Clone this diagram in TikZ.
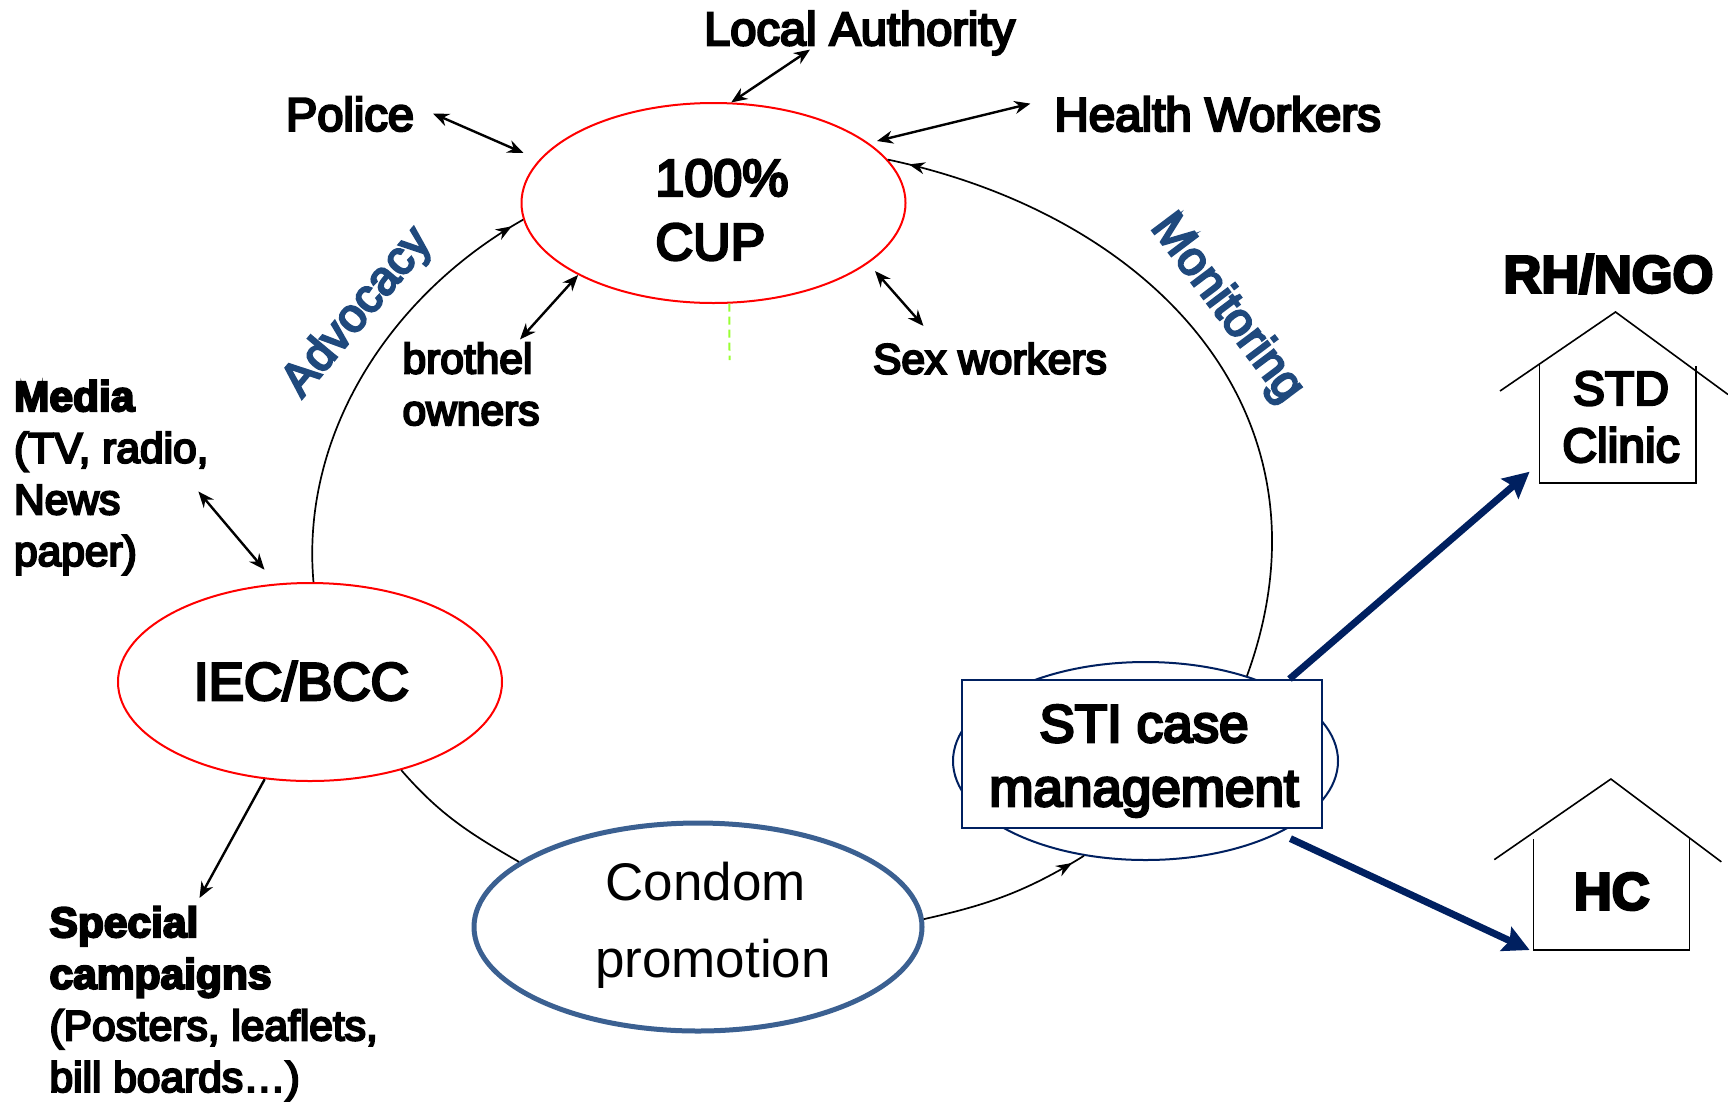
\documentclass[tikz,border=0pt]{standalone}
\usepackage{fontspec}
\setmainfont[RawFeature={embolden=5}]{Liberation Sans}
\newfontfamily\plainfont{Liberation Sans}
\usetikzlibrary{arrows.meta,decorations.markings,shapes.geometric}

\newcommand{\fs}[2]{\fontsize{#1pt}{#2pt}\selectfont}
\definecolor{navy}{HTML}{002060}
\definecolor{steel}{HTML}{3B6091}
\definecolor{wordblue}{HTML}{1F497D}
\definecolor{limedash}{HTML}{99FF33}

\tikzset{
    x=1pt, y=1pt,
    ring/.style={draw=#1, ellipse, fill=white, inner sep=0pt, line width=2pt},
    twoway/.style={{Stealth[length=16pt,width=13pt]}-{Stealth[length=16pt,width=13pt]}, line width=2.4pt},
    oneway/.style={-{Stealth[length=16pt,width=13pt]}, line width=2.4pt},
    thickarrow/.style={-{Stealth[length=26pt,width=26pt,inset=4pt]}, draw=navy, line width=7pt},
    cyclearc/.style={line width=1.7pt},
    arctip/.style={postaction={decorate}, decoration={markings,
        mark=at position #1 with {\arrow{Stealth[length=16pt,width=12pt]}}}},
    housewall/.style={line width=1.6pt},
}

\begin{document}
\begin{tikzpicture}
    \useasboundingbox (0,0) rectangle (1728,-1101);

    % the four stations on the cycle
    \node [ring=red, minimum width=384pt, minimum height=200pt] (cup) at (713.5,-203) {};
    \node [ring=red, minimum width=384pt, minimum height=198pt] (iec) at (310,-682) {};
    \node [ring=steel, line width=5pt, minimum width=448pt, minimum height=208pt] (cond) at (698,-927) {};
    \node [ring=navy, minimum width=385pt, minimum height=198pt] (sti) at (1145.5,-761) {};
    \node [draw=navy, fill=white, line width=2pt, minimum width=360pt, minimum height=148pt] (stibox) at (1142.3,-754) {};

    \node [font=\fs{53}{64}, align=center] (stitext) at (1144,-761) {STI case\\management};
    \node [font=\fs{52}{64}, align=left] (cuptext) at (722,-210) {100\%\\CUP};
    \node [font=\fs{53}{64}] (iectext) at (301.4,-681) {IEC/BCC};
    \node [font=\plainfont\fs{53}{77}, align=center] (condtext) at (713,-925) {Condom\hspace*{15pt}\\promotion};

    % outer labels
    \node [font=\fs{47}{56}] (auth) at (859.6,-33) {Local Authority};
    \node [font=\fs{47.5}{56}] (health) at (1217.7,-114) {Health Workers};
    \node [font=\fs{47}{56}] (police) at (350,-114) {Police};
    \node [font=\fs{42.5}{51.6}, align=left, anchor=west] (brothel) at (399,-384) {brothel\\owners};
    \node [font=\fs{42.5}{52}] (sexw) at (990,-358.5) {Sex workers};
    \node [font=\fs{42.5}{51.6}, align=left, anchor=west] (media) at (10.5,-477.5) {\textbf{Media}\\(TV, radio,\\News\\paper)};
    \node [font=\fs{42.5}{51.6}, align=left, anchor=west] (camp) at (46,-1003.5) {\textbf{Special}\\\textbf{campaigns}\\(Posters, leaflets,\\bill boards\ldots)};
    \node [font=\fs{47}{56}, text=wordblue, rotate=50] (advo) at (358,-313) {Advocacy};
    \node [font=\fs{47.5}{56}, text=wordblue, rotate=-53] (moni) at (1226.5,-308.6) {Monitoring};

    % houses
    \coordinate (h1a) at (1500,-391);
    \coordinate (h1b) at (1615.5,-312);
    \coordinate (h1c) at (1728,-394.5);
    \coordinate (h1d) at (1539.5,-364);
    \coordinate (h1e) at (1539.5,-482.7);
    \coordinate (h1f) at (1696,-482.7);
    \coordinate (h1g) at (1696,-366);
    \draw [housewall] (h1a) -- (h1b) -- (h1c);
    \draw [housewall] (h1d) -- (h1e) -- (h1f) -- (h1g);
    \node [font=\bfseries\fs{52.5}{60}] (rh) at (1608.4,-274) {RH/NGO};
    \node [font=\fs{48}{57}, align=center] (std) at (1621,-417) {STD\\Clinic};

    \coordinate (h2a) at (1494.3,-859.6);
    \coordinate (h2b) at (1610.9,-779);
    \coordinate (h2c) at (1721.3,-861.8);
    \coordinate (h2d) at (1533.6,-839);
    \coordinate (h2e) at (1533.6,-950);
    \coordinate (h2f) at (1689.4,-950);
    \coordinate (h2g) at (1689.4,-839);
    \draw [housewall] (h2a) -- (h2b) -- (h2c);
    \draw [housewall] (h2d) -- (h2e) -- (h2f) -- (h2g);
    \node [font=\bfseries\fs{52.5}{60}] (hc) at (1611.7,-891.5) {HC};

    % arcs of the cycle
    \draw [cyclearc, arctip=0.97] (iec.88) to [out=95, in=209.5, looseness=0.92] (cup.185);
    \draw [cyclearc, arctip=0.97] (sti.40) to [out=70, in=-12, looseness=1.12] (cup.14.3);
    \draw [cyclearc] (iec.316) to [out=-49, in=150] (cond.160);
    \draw [cyclearc, arctip=0.92] (cond.2) to [out=12.7, in=211.7] (sti.237.7);

    % free ends of the small arrows
    \coordinate (p1) at (433,-113.5);
    \coordinate (p2) at (523.5,-153);
    \coordinate (a1) at (810,-49.6);
    \coordinate (w1) at (1030.4,-103.6);
    \coordinate (w2) at (877,-141);
    \coordinate (b1) at (520,-339.4);
    \coordinate (s1) at (875,-271);
    \coordinate (s2) at (923.5,-326);
    \coordinate (m1) at (198.4,-491.5);
    \coordinate (m2) at (264.5,-569.7);
    \coordinate (c1) at (199.5,-898);
    \coordinate (g1) at (729.5,-360);
    \coordinate (r1) at (1529.6,-471.7);
    \coordinate (r2) at (1290.4,-838.6);
    \coordinate (r3) at (1529.6,-950);

    \draw [twoway] (p1) -- (p2);
    \draw [twoway] (a1) -- (cup.80);
    \draw [twoway] (w1) -- (w2);
    \draw [twoway] (b1) -- (cup.208);
    \draw [twoway] (s1) -- (s2);
    \draw [twoway] (m1) -- (m2);
    \draw [oneway] (iec.245) -- (c1);
    \draw [draw=limedash, line width=2pt, dash pattern=on 8pt off 5pt] (cup.279) -- (g1);

    \draw [thickarrow] (stibox.27) -- (r1);
    \draw [thickarrow] (r2) -- (r3);
\end{tikzpicture}
\end{document}
